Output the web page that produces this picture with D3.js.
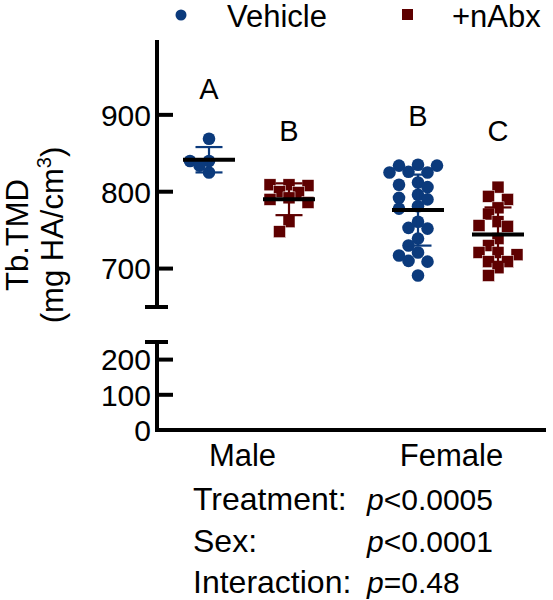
<!DOCTYPE html>
<html>
<head>
<meta charset="utf-8">
<script src="https://cdn.jsdelivr.net/npm/d3@7/dist/d3.min.js"></script>
<style>
  html, body { margin: 0; padding: 0; background: #fff; }
  svg { display: block; }
  text { font-family: "Liberation Sans", Arial, sans-serif; fill: #000; }
</style>
</head>
<body>
<svg id="chart" width="553" height="600"></svg>
<script>
// ---------- data ----------
const sexes = ["Male", "Female"];
const treatments = ["Vehicle", "+nAbx"];
const maleVehicle = [869, 840, 840, 834, 825];
const maleAbx = [809, 809, 808, 800, 799, 792, 790, 786, 761, 748];
const femaleVehicle = [835, 834, 834, 826, 825, 825, 812, 809, 806, 796, 792, 790, 781, 778, 761, 753, 752, 739, 730, 721, 717, 710, 709, 691];
const femaleAbx = [806, 794, 790, 779, 771, 761, 756, 755, 739, 730, 721, 721, 718, 709, 709, 701, 691];
const groupLetters = ["A", "B", "B", "C"];
const upperTicks = [700, 800, 900];
const lowerTicks = [0, 100, 200];
const statLabels = ["Treatment:", "Sex:", "Interaction:"];
const statValues = [["p", "<0.0005"], ["p", "<0.0001"], ["p", "=0.48"]];
const yTitle = ["Tb.TMD", "(mg HA/cm", "3", ")"];

const groups = [
  {sex: "Male", trt: "Vehicle", values: maleVehicle, letter: groupLetters[0]},
  {sex: "Male", trt: "+nAbx", values: maleAbx, letter: groupLetters[1]},
  {sex: "Female", trt: "Vehicle", values: femaleVehicle, letter: groupLetters[2]},
  {sex: "Female", trt: "+nAbx", values: femaleAbx, letter: groupLetters[3]}
];

// ---------- styles ----------
const colors = {"Vehicle": "#0b3a7c", "+nAbx": "#5e0000"};
const FS = 30;

const svg = d3.select("#chart");

// ---------- scales ----------
const axisX = 157;
const yUp = d3.scaleLinear().domain([650, 1000]).range([307, 38]);
const yLow = d3.scaleLinear().domain([0, 250]).range([430, 342]);
const xSex = d3.scaleBand().domain(sexes).range([145, 563]);
const xTrt = d3.scalePoint().domain(treatments).range([64, 144]);
const cx = g => xSex(g.sex) + xTrt(g.trt);

// ---------- axes ----------
const axisG = svg.append("g");
const stroke = 4;
// upper segment
axisG.append("line").attr("x1", axisX).attr("x2", axisX)
  .attr("y1", yUp(1000) + 2).attr("y2", yUp(650)).attr("stroke", "#000").attr("stroke-width", stroke);
axisG.append("line").attr("x1", axisX - 12).attr("x2", axisX + 11)
  .attr("y1", yUp(650)).attr("y2", yUp(650)).attr("stroke", "#000").attr("stroke-width", stroke);
// lower segment
axisG.append("line").attr("x1", axisX).attr("x2", axisX)
  .attr("y1", yLow(250)).attr("y2", yLow(0) + 2).attr("stroke", "#000").attr("stroke-width", stroke);
axisG.append("line").attr("x1", axisX - 12).attr("x2", axisX + 11)
  .attr("y1", yLow(250)).attr("y2", yLow(250)).attr("stroke", "#000").attr("stroke-width", stroke);

function drawTicks(scale, ticks) {
  const g = axisG.append("g");
  g.selectAll("line").data(ticks).join("line")
    .attr("x1", axisX).attr("x2", axisX + 16)
    .attr("y1", d => scale(d)).attr("y2", d => scale(d))
    .attr("stroke", "#000").attr("stroke-width", stroke);
  g.selectAll("text").data(ticks).join("text")
    .attr("x", axisX - 6).attr("y", d => scale(d))
    .attr("dy", "0.36em").attr("text-anchor", "end")
    .attr("font-size", FS).text(d => d);
}
drawTicks(yUp, upperTicks.filter(d => d > 0));
drawTicks(yLow, lowerTicks.filter(d => d > 0));
// zero label
axisG.append("text").attr("x", axisX - 6).attr("y", yLow(0)).attr("dy", "0.36em")
  .attr("text-anchor", "end").attr("font-size", FS).text(lowerTicks[0]);

// x axis
axisG.append("line").attr("x1", axisX - 2).attr("x2", 546)
  .attr("y1", yLow(0)).attr("y2", yLow(0)).attr("stroke", "#000").attr("stroke-width", stroke);

// category labels
svg.append("g").selectAll("text").data(sexes).join("text")
  .attr("x", d => xSex(d) + xSex.bandwidth() / 2 - 7)
  .attr("y", 466).attr("text-anchor", "middle").attr("font-size", 31).text(d => d);

// y title
const yt = svg.append("g").attr("transform", "translate(0,235) rotate(-90)");
yt.append("text").attr("x", 0).attr("y", 28).attr("text-anchor", "middle").attr("font-size", 31).text(yTitle[0]);
const t2 = yt.append("text").attr("x", 0).attr("y", 63).attr("text-anchor", "middle").attr("font-size", 31);
t2.append("tspan").text(yTitle[1]);
t2.append("tspan").attr("font-size", 20).attr("dy", -12).text(yTitle[2]);
t2.append("tspan").attr("dy", 12).text(yTitle[3]);

// ---------- beeswarm layout ----------
function dodge(values, step, minDist) {
  const order = values.map((v, i) => ({v, i, y: yUp(v)})).sort((a, b) => a.y - b.y);
  const placed = [];
  order.forEach(p => {
    for (let k = 0; k < 30; k++) {
      const off = (k === 0 ? 0 : (k % 2 ? -1 : 1) * Math.ceil(k / 2) * step);
      const ok = placed.every(q => Math.hypot(q.x - off, q.y - p.y) >= minDist);
      if (ok) { p.x = off; break; }
    }
    placed.push(p);
  });
  return placed;
}

// ---------- groups ----------
const plot = svg.append("g");
groups.forEach(g => {
  const x0 = cx(g);
  const col = colors[g.trt];
  const pts = dodge(g.values, 9.5, 10.5);
  const gg = plot.append("g");
  if (g.trt === "Vehicle") {
    gg.selectAll("circle").data(pts).join("circle")
      .attr("cx", d => x0 + d.x).attr("cy", d => d.y).attr("r", 6.3).attr("fill", col);
  } else {
    const s = 12;
    gg.selectAll("rect").data(pts).join("rect")
      .attr("x", d => x0 + d.x - s / 2).attr("y", d => d.y - s / 2)
      .attr("width", s).attr("height", s).attr("fill", col)
      .attr("stroke", "#fff").attr("stroke-width", 0.5);
  }
  const m = d3.mean(g.values), sd = d3.deviation(g.values);
  // sd bar
  gg.append("line").attr("x1", x0).attr("x2", x0).attr("y1", yUp(m + sd)).attr("y2", yUp(m - sd))
    .attr("stroke", col).attr("stroke-width", 2.2);
  [m + sd, m - sd].forEach(v => {
    gg.append("line").attr("x1", x0 - 13.5).attr("x2", x0 + 13.5).attr("y1", yUp(v)).attr("y2", yUp(v))
      .attr("stroke", col).attr("stroke-width", 2.2);
  });
  // mean line
  gg.append("line").attr("x1", x0 - 26).attr("x2", x0 + 26).attr("y1", yUp(m)).attr("y2", yUp(m))
    .attr("stroke", "#000").attr("stroke-width", 4);
});

// letters
const letterY = {"Male|Vehicle": 99, "Male|+nAbx": 141, "Female|Vehicle": 126, "Female|+nAbx": 141};
svg.append("g").selectAll("text").data(groups).join("text")
  .attr("x", d => cx(d)).attr("y", d => letterY[d.sex + "|" + d.trt])
  .attr("text-anchor", "middle").attr("font-size", 29).text(d => d.letter);

// legend
const lg = svg.append("g");
lg.append("circle").attr("cx", 181).attr("cy", 15).attr("r", 5.5).attr("fill", colors["Vehicle"]);
lg.append("text").attr("x", 227).attr("y", 27).attr("font-size", 31).text(treatments[0]);
lg.append("rect").attr("x", 402).attr("y", 9).attr("width", 11).attr("height", 11).attr("fill", colors["+nAbx"]);
lg.append("text").attr("x", 452).attr("y", 27).attr("font-size", 31).text(treatments[1]);

// stats
const st = svg.append("g");
const statY = [510, 552, 593];
statLabels.forEach((lab, i) => {
  st.append("text").attr("x", 193).attr("y", statY[i]).attr("font-size", 32).text(lab);
  const t = st.append("text").attr("x", 367).attr("y", statY[i]).attr("font-size", 30);
  t.append("tspan").attr("font-style", "italic").text(statValues[i][0]);
  t.append("tspan").text(statValues[i][1]);
});
</script>
</body>
</html>
